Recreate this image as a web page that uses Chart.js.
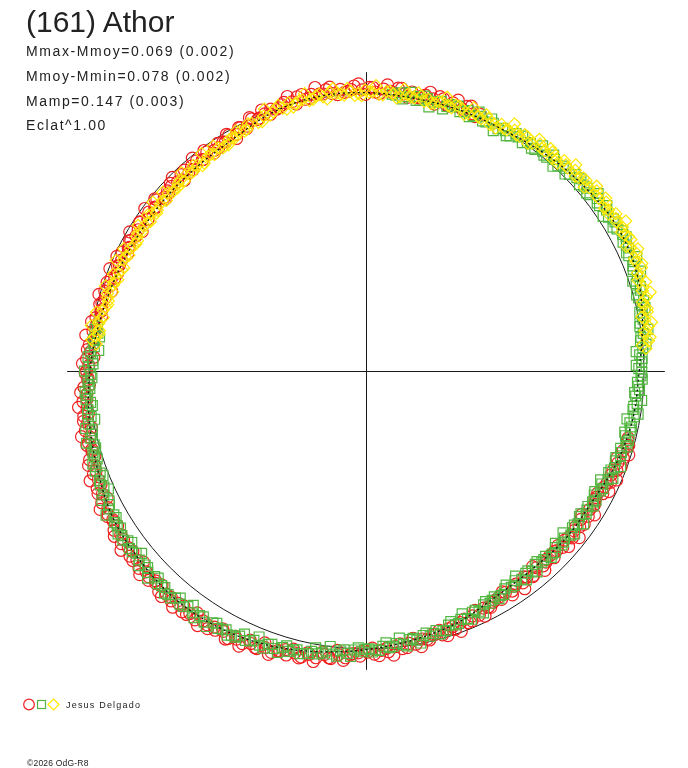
<!DOCTYPE html>
<html>
<head>
<meta charset="utf-8">
<script src="https://cdn.jsdelivr.net/npm/chart.js@4.4.1/dist/chart.umd.min.js"></script>
<style>
  html, body { margin: 0; padding: 0; background: #fff; }
  #wrap { position: relative; width: 688px; height: 768px; overflow: hidden; }
  #polar { position: absolute; left: 0; top: 0; }
  .txt { position: absolute; left: 26px; white-space: nowrap; color: #222;
         font-family: "Liberation Sans", Arial, sans-serif; line-height: 1; }
  .title { top: 7px; font-size: 30px; }
  .info { font-size: 14px; letter-spacing: 1.6px; }
  .legend { left: 66px; top: 701px; font-size: 9px; letter-spacing: 1.2px; }
  .copy { left: 27px; top: 759px; font-size: 8.5px; letter-spacing: 0.2px; }
</style>
</head>
<body>
<div id="wrap">
  <canvas id="polar" width="688" height="768"></canvas>
  <div class="txt title">(161) Athor</div>
  <div class="txt info" style="top:44px">Mmax-Mmoy=0.069 (0.002)</div>
  <div class="txt info" style="top:69px">Mmoy-Mmin=0.078 (0.002)</div>
  <div class="txt info" style="top:94px">Mamp=0.147 (0.003)</div>
  <div class="txt info" style="top:118px">Eclat^1.00</div>
  <div class="txt legend">Jesus Delgado</div>
  <div class="txt copy">©2026 OdG-R8</div>
</div>
<script>
// observations: [phase angle in degrees, relative radius]
const redObs = [
  [66,1.012],[67.4,1.004],[69.1,1.021],[70.3,1.009],[72.0,1.016],[73.2,1.001],[74.9,1.024],[76.1,1.010],
  [77.8,1.017],[79.0,1.003],[80.6,1.019],[82.1,1.008],[83.5,1.026],[85.0,1.012],[86.4,1.018],[88.1,1.006],
  [89.3,1.022],[90.8,1.013],[92.4,1.028],[93.7,1.010],[95.2,1.019],[96.9,1.007],[98.1,1.024],[99.6,1.012],
  [101.2,1.016],[102.5,1.003],[104.1,1.019],[105.4,1.006],[107.0,1.012],[108.3,0.999],[110.0,1.004],
  [111.5,0.996],[112.9,0.989],[114.4,0.998],[115.8,0.980],[117.3,0.987],[118.7,0.972],[120.2,0.983],
  [121.6,0.968],[123.1,0.979],[124.5,0.965],[126.0,0.976],[127.6,0.962],[128.9,0.973],[130.4,0.970],
  [131.8,0.958],[133.3,0.972],[134.9,0.962],[136.2,0.977],[137.8,0.966],[139.3,0.959],[140.7,0.974],
  [142.2,0.963],[143.8,0.970],[145.1,0.958],[146.7,0.975],[148.2,0.966],[149.6,0.961],[151.1,0.973],
  [152.7,0.964],[154.0,0.978],[155.6,0.967],[157.1,0.972],[158.5,0.962],[160.0,0.976],
  [161.5,0.971],[163.0,0.984],[164.4,0.976],[165.9,0.989],[167.3,0.979],[168.8,0.992],[170.2,0.985],
  [171.7,0.994],[173.1,0.987],[174.6,1.002],[176.0,0.995],[177.5,1.008],[178.9,0.999],[180.4,1.012],
  [181.8,1.003],[183.3,1.018],[184.7,1.009],[186.2,1.026],[187.6,1.014],[189.1,1.030],[190.5,1.020],
  [192.0,1.034],[193.4,1.024],[194.9,1.041],[196.3,1.029],[197.8,1.046],[199.2,1.036],[200.7,1.050],
  [202.1,1.041],[203.6,1.057],[205.0,1.048],[206.5,1.064],[207.9,1.052],[209.4,1.069],[210.8,1.060],
  [212.3,1.074],[213.7,1.062],[215.2,1.079],[216.6,1.067],[218.1,1.081],[219.5,1.070],[221.0,1.084],
  [222.4,1.073],[223.9,1.088],[225.3,1.077],[226.8,1.091],[228.2,1.079],[229.7,1.086],[231.1,1.076],
  [232.6,1.092],[234.0,1.080],[235.5,1.088],[236.9,1.075],[238.4,1.090],[239.8,1.081],
  [241.3,1.070],[242.7,1.085],[244.2,1.073],[245.6,1.079],[247.1,1.066],[248.5,1.075],[250.0,1.061],
  [251.4,1.070],[252.9,1.056],[254.3,1.063],[255.8,1.048],[257.2,1.057],[258.7,1.041],[260.1,1.049],
  [261.6,1.033],[263.0,1.044],[264.5,1.027],[265.9,1.036],[267.4,1.019],[268.8,1.028],[270.3,1.013],
  [271.7,1.021],[273.2,1.008],[274.6,1.015],[276.1,0.999],[277.5,1.009],[279.0,0.994],[280.4,1.001],
  [281.9,0.987],[283.3,0.996],[284.8,0.981],[286.2,0.990],[287.7,0.975],[289.1,0.985],[290.6,0.969],
  [292.0,0.978],[293.5,0.962],[294.9,0.970],[296.4,0.954],[297.8,0.963],[299.3,0.948],
  [300.7,0.957],[302.2,0.943],[303.6,0.952],[305.1,0.939],[306.5,0.950],[308.0,0.942],[309.4,0.953],
  [310.9,0.938],[312.3,0.949],[313.8,0.941],[315.2,0.955],[316.7,0.944],[318.1,0.952],[319.6,0.940],
  [321.0,0.956],[322.5,0.945],[323.9,0.953],[325.4,0.941],[326.8,0.957],[328.3,0.948],[329.7,0.954],
  [331.2,0.946],[332.6,0.961],[334.1,0.955],[335.5,0.968],[337.0,0.959],[338.4,0.972],[339.9,0.966],
  [341.3,0.979],[342.8,0.970],[344.2,0.984],[345.7,0.975]
];
const redObsB = [
  [66.8,0.997],[68.3,1.027],[69.8,1.005],[71.2,1.031],[72.7,1.000],[74.1,1.020],[75.6,0.993],[77.0,1.031],
  [78.5,1.011],[79.9,1.003],[81.4,0.997],[82.8,1.027],[84.3,1.006],[85.7,1.034],[87.2,1.001],[88.6,1.022],
  [90.1,0.997],[91.5,1.035],[93.0,1.015],[94.4,1.007],[95.9,1.001],[97.3,1.031],[98.8,1.010],[100.2,1.038],
  [101.7,1.004],[103.1,1.023],[104.6,0.994],[106.0,1.029],[107.5,1.006],[108.9,0.997],[110.4,0.987],
  [111.8,1.013],[113.3,0.987],[114.7,1.005],[116.2,0.974],[117.6,0.990],[119.1,0.959],[120.5,0.990],
  [122.0,0.973],[123.4,0.964],[124.9,0.957],[126.3,0.986],[127.8,0.963],[129.2,0.990],[130.7,0.956],
  [132.1,0.976],[133.6,0.949],[135.0,0.987],[136.5,0.967],[137.9,0.958],[139.4,0.952],[140.8,0.982],
  [142.3,0.960],[143.7,0.989],[145.2,0.956],[146.6,0.976],[148.1,0.950],[149.5,0.988],[151.0,0.969],
  [152.4,0.962],[153.9,0.957],[155.3,0.988],[156.8,0.967],[158.2,0.994],[159.7,0.965],[161.1,0.986],
  [162.6,0.961],[164.0,1.001],[165.5,0.983],[166.9,0.977],[168.4,0.973],[169.8,1.005],[171.3,0.985],
  [172.7,1.018],[174.2,0.985],[175.6,1.007],[177.1,0.982],[178.5,1.022],[180.0,1.007],[181.4,1.002],
  [182.9,0.998],[184.3,1.031],[185.8,1.011],[187.2,1.044],[188.7,1.012],[190.1,1.034],[191.6,1.010],
  [193.0,1.052],[194.5,1.033],[195.9,1.027],[197.4,1.024],[198.8,1.056],[200.3,1.037],[201.7,1.070],
  [203.2,1.039],[204.6,1.062],[206.1,1.039],[207.5,1.080],[209.0,1.064],[210.4,1.058],[211.9,1.054],
  [213.3,1.085],[214.8,1.064],[216.2,1.094],[217.7,1.062],[219.1,1.083],[220.6,1.057],[222.0,1.097],
  [223.5,1.078],[224.9,1.071],[226.4,1.066],[227.8,1.097],[229.3,1.076],[230.7,1.100],[232.2,1.071],
  [233.6,1.090],[235.1,1.063],[236.5,1.100],[238.0,1.079],[239.4,1.072],[240.9,1.063],[242.3,1.091],
  [243.8,1.066],[245.2,1.092],[246.7,1.056],[248.1,1.074],[249.6,1.045],[251.0,1.080],[252.5,1.056],
  [253.9,1.045],[255.4,1.036],[256.8,1.062],[258.3,1.037],[259.7,1.064],[261.2,1.025],[262.6,1.042],
  [264.1,1.012],[265.5,1.046],[266.9,1.023],[268.4,1.016],[269.8,1.008],[271.3,0.999],[272.7,1.027],
  [274.2,1.002],[275.6,1.029],[277.1,0.991],[278.5,1.008],[280.0,0.978],[281.4,1.013],[282.9,0.991],
  [284.3,0.980],[285.8,0.971],[287.2,0.998],[288.7,0.973],[290.1,0.999],[291.6,0.962],[293.0,0.978],
  [294.5,0.948],[295.9,0.982],[297.4,0.958],[298.8,0.951],[300.3,0.946],[301.7,0.935],[303.2,0.964],
  [304.6,0.942],[306.1,0.971],[307.5,0.935],[309.0,0.954],[310.4,0.926],[311.9,0.965],[313.3,0.946],
  [314.8,0.939],[316.2,0.940],[317.7,0.935],[319.1,0.966],[320.6,0.945],[322.0,0.975],[323.5,0.941],
  [324.9,0.961],[326.4,0.934],[327.8,0.973],[329.3,0.953],[330.7,0.946],[332.2,0.944],[333.6,0.977],
  [335.1,0.958],[336.5,0.985],[338.0,0.959],[339.4,0.982],[340.9,0.957],[342.3,0.994],[343.8,0.980],
  [345.2,0.974]
];

const greenObs = [
  [170.5,0.981],[172.0,0.976],[173.4,0.988],[174.9,0.983],[176.3,0.994],[177.8,0.986],[179.2,0.998],
  [180.7,0.992],[182.1,1.003],[183.6,0.997],[185.0,1.008],[186.5,0.999],[187.9,1.012],[189.4,1.004],
  [190.8,1.018],[192.3,1.010],[193.7,1.022],[195.2,1.015],[196.6,1.027],[198.1,1.019],[199.5,1.032],
  [201.0,1.026],[202.4,1.039],[203.9,1.033],[205.3,1.045],[206.8,1.037],[208.2,1.052],[209.7,1.046],
  [211.1,1.058],[212.6,1.050],[214.0,1.061],[215.5,1.054],[216.9,1.066],[218.4,1.057],[219.8,1.064],
  [221.3,1.059],[222.7,1.070],[224.2,1.062],[225.6,1.073],[227.1,1.065],[228.5,1.076],[230.0,1.068],
  [231.4,1.075],[232.9,1.064],[234.3,1.073],[235.8,1.066],[237.2,1.077],[238.7,1.062],[240.1,1.070],
  [241.6,1.060],[243.0,1.069],[244.5,1.058],[245.9,1.064],[247.4,1.051],[248.8,1.060],[250.3,1.046],
  [251.7,1.053],[253.2,1.041],[254.6,1.048],[256.1,1.035],[257.5,1.043],[259.0,1.029],[260.4,1.034],
  [261.9,1.019],[263.3,1.027],[264.8,1.013],[266.2,1.020],[267.7,1.006],[269.1,1.012],[270.6,1.001],
  [272.0,1.006],[273.5,0.994],[274.9,1.001],[276.4,0.988],[277.8,0.995],[279.3,0.981],[280.7,0.987],
  [282.2,0.975],[283.6,0.983],[285.1,0.969],[286.5,0.977],[288.0,0.963],[289.4,0.970],[290.9,0.958],
  [292.3,0.964],[293.8,0.950],[295.2,0.957],[296.7,0.943],[298.1,0.949],[299.6,0.936],
  [301.0,0.944],[302.5,0.931],[303.9,0.939],[305.4,0.927],[306.8,0.937],[308.3,0.929],[309.7,0.938],
  [311.2,0.926],[312.6,0.936],[314.1,0.930],[315.5,0.941],[317.0,0.933],[318.4,0.944],[319.9,0.935],
  [321.3,0.946],[322.8,0.934],[324.2,0.942],[325.7,0.931],[327.1,0.945],[328.6,0.937],[330.0,0.943],
  [331.5,0.936],[332.9,0.949],[334.4,0.942],[335.8,0.956],[337.3,0.948],[338.7,0.961],[340.2,0.955],
  [341.6,0.967],[343.1,0.959],[344.5,0.972],[346.0,0.964],[347.4,0.976],[348.9,0.969],[350.3,0.980],
  [351.8,0.972],[353.2,0.984],[354.7,0.976],[356.1,0.988],[357.6,0.979],[359.0,0.991],
  [0.5,0.983],[1.9,0.994],[3.4,0.988],[4.8,1.001],[6.3,0.995],[7.7,1.008],[9.2,1.000],
  [10.6,1.016],[12.1,1.009],[13.5,1.024],[15.0,1.017],[16.4,1.031],[17.9,1.023],[19.3,1.036],
  [20.8,1.030],[22.2,1.042],[23.7,1.034],[25.1,1.045],[26.6,1.036],[28.0,1.048],[29.5,1.039],
  [30.9,1.046],[32.4,1.035],[33.8,1.043],[35.3,1.031],[36.7,1.040],[38.2,1.027],[39.6,1.034],
  [41.1,1.021],[42.5,1.031],[44.0,1.019],[45.4,1.026],[46.9,1.012],[48.3,1.021],[49.8,1.009],
  [51.2,1.016],[52.7,1.004],[54.1,1.011],[55.6,0.997],[57.0,1.006],[58.5,0.993],[59.9,1.001],
  [61.4,0.994],[62.8,1.004],[64.3,0.996],[65.7,1.007],[67.2,0.998],[68.6,1.008],[70.1,0.994],
  [71.5,1.003],[73.0,0.997],[74.4,1.009],[75.9,1.000],[77.3,1.006],[78.8,0.995],[80.2,1.004],
  [81.7,0.999],[83.1,1.010],[84.6,1.002]
];
const greenObsB = [
  [171.2,0.988],[172.7,0.968],[174.2,0.988],[175.6,0.966],[177.1,1.003],[178.5,0.984],[180.0,1.014],
  [181.4,0.988],[182.9,1.000],[184.3,1.015],[185.8,1.014],[187.2,0.994],[188.7,1.015],[190.1,0.993],
  [191.6,1.031],[193.0,1.012],[194.5,1.040],[195.9,1.013],[197.4,1.026],[198.8,1.040],[200.3,1.040],
  [201.7,1.020],[203.2,1.042],[204.6,1.021],[206.1,1.060],[207.5,1.042],[209.0,1.071],[210.4,1.044],
  [211.9,1.056],[213.3,1.069],[214.8,1.067],[216.2,1.046],[217.7,1.065],[219.1,1.042],[220.6,1.078],
  [222.0,1.059],[223.5,1.085],[224.9,1.057],[226.4,1.068],[227.8,1.081],[229.3,1.079],[230.7,1.057],
  [232.2,1.074],[233.6,1.049],[235.1,1.084],[236.5,1.062],[238.0,1.086],[239.4,1.056],[240.9,1.065],
  [242.3,1.075],[243.8,1.069],[245.2,1.044],[246.7,1.059],[248.1,1.033],[249.6,1.066],[251.0,1.042],
  [252.5,1.063],[253.9,1.031],[255.4,1.038],[256.8,1.046],[258.3,1.040],[259.7,1.014],[261.2,1.028],
  [262.6,1.001],[264.1,1.033],[265.5,1.008],[266.9,1.030],[268.4,0.998],[269.8,1.004],[271.3,1.013],
  [272.7,1.008],[274.2,0.982],[275.6,0.997],[277.1,0.970],[278.5,1.002],[280.0,0.978],[281.4,1.000],
  [282.9,0.969],[284.3,0.976],[285.8,0.985],[287.2,0.979],[288.7,0.953],[290.1,0.969],[291.6,0.941],
  [293.0,0.972],[294.5,0.948],[295.9,0.969],[297.4,0.936],[298.8,0.943],[300.3,0.950],[301.7,0.946],
  [303.2,0.922],[304.6,0.940],[306.1,0.915],[307.5,0.949],[309.0,0.927],[310.4,0.951],[311.9,0.923],
  [313.3,0.934],[314.8,0.947],[316.2,0.945],[317.7,0.923],[319.1,0.942],[320.6,0.919],[322.0,0.954],
  [323.5,0.934],[324.9,0.959],[326.4,0.930],[327.8,0.941],[329.3,0.953],[330.7,0.951],[332.2,0.932],
  [333.6,0.953],[335.1,0.932],[336.5,0.970],[338.0,0.952],[339.4,0.980],[340.9,0.953],[342.3,0.966],
  [343.8,0.980],[345.2,0.979],[346.7,0.958],[348.1,0.978],[349.6,0.956],[351.0,0.993],[352.5,0.973],
  [353.9,0.999],[355.4,0.971],[356.8,0.982],[358.3,0.996],[359.7,0.994],
  [1.2,0.974],[2.6,0.996],[4.1,0.976],[5.5,1.014],[7.0,0.998],[8.4,1.027],[9.9,1.002],[11.3,1.015],
  [12.8,1.031],[14.2,1.032],[15.7,1.013],[17.1,1.034],[18.6,1.014],[20.0,1.053],[21.5,1.033],
  [22.9,1.059],[24.4,1.031],[25.8,1.042],[27.3,1.055],[28.7,1.052],[30.2,1.030],[31.6,1.046],
  [33.1,1.020],[34.5,1.053],[36.0,1.030],[37.4,1.053],[38.9,1.022],[40.3,1.030],[41.8,1.039],
  [43.2,1.034],[44.7,1.009],[46.1,1.025],[47.6,0.999],[49.0,1.031],[50.5,1.008],[51.9,1.031],
  [53.4,1.000],[54.8,1.008],[56.3,1.018],[57.7,1.012],[59.2,0.987],[60.6,1.004],[62.1,0.980],
  [63.5,1.015],[65.0,0.994],[66.4,1.018],[67.9,0.989],[69.3,0.999],[70.8,1.011],[72.2,1.008],
  [73.7,0.984],[75.1,1.002],[76.6,0.978],[78.0,1.013],[79.5,0.992],[80.9,1.017],[82.4,0.989],
  [83.8,1.000]
];

const yellowObs = [
  [4.6,1.012],[6.1,1.024],[7.5,1.016],[9.0,1.031],
  [10.4,1.022],[11.9,1.036],[13.3,1.029],[14.8,1.045],[16.2,1.037],[17.7,1.058],[19.1,1.046],
  [20.6,1.061],[22.0,1.049],[23.5,1.063],[24.9,1.052],[26.4,1.066],[27.8,1.054],[29.3,1.060],
  [30.7,1.051],[32.2,1.064],[33.6,1.049],[35.1,1.058],[36.5,1.044],[38.0,1.055],[39.4,1.041],
  [40.9,1.049],[42.3,1.036],[43.8,1.045],[45.2,1.031],[46.7,1.042],[48.1,1.027],[49.6,1.036],
  [51.0,1.022],[52.5,1.031],[53.9,1.016],[55.4,1.025],[56.8,1.011],[58.3,1.020],[59.7,1.006],
  [61.2,1.014],[62.6,1.003],[64.1,1.011],[65.5,0.999],[67.0,1.009],[68.4,0.997],[69.9,1.006],
  [71.3,1.012],[72.8,1.001],[74.2,1.008],[75.7,0.996],[77.1,1.005],[78.6,1.011],[80.0,0.999],
  [81.5,1.007],[82.9,0.995],[84.4,1.004],[85.8,1.010],[87.3,0.998],[88.7,1.006],[90.2,1.013],
  [91.6,1.001],[93.1,1.009],[94.5,0.997],[96.0,1.007],[97.4,1.012],[98.9,1.000],[100.3,1.008],
  [101.8,0.995],[103.2,1.004],[104.7,0.998],[106.1,1.006],[107.6,0.993],[109.0,0.999],
  [110.5,0.984],[111.9,0.990],[113.4,0.976],[114.8,0.983],[116.3,0.970],[117.7,0.976],[119.2,0.964],
  [120.6,0.969],[122.1,0.957],[123.5,0.964],[125.0,0.952],[126.4,0.961],[127.9,0.949],[129.3,0.958],
  [130.8,0.951],[132.2,0.960],[133.7,0.947],[135.1,0.956],[136.6,0.950],[138.0,0.959],[139.5,0.946],
  [140.9,0.955],[142.4,0.949],[143.8,0.958],[145.3,0.945],[146.7,0.954],[148.2,0.950],[149.6,0.959],
  [151.1,0.947],[152.5,0.957],[154.0,0.951],[155.4,0.961],[156.9,0.949],[158.3,0.958],[159.8,0.953],
  [161.2,0.962],[162.7,0.956],[164.1,0.968],[165.6,0.961],[167.0,0.973],[168.5,0.966],[169.9,0.978],
  [171.4,0.971],[172.8,0.984],[174.3,0.977]
];
const yellowObsB = [
  [5.3,1.000],[6.8,1.031],[8.2,1.016],[9.7,1.044],[11.1,1.013],[12.6,1.038],[14.0,1.027],[15.5,1.063],
  [16.9,1.043],[18.4,1.033],[19.8,1.039],[21.3,1.067],[22.7,1.049],[24.2,1.074],[25.6,1.040],[27.1,1.063],
  [28.5,1.048],[30.0,1.081],[31.4,1.055],[32.9,1.041],[34.3,1.041],[35.8,1.065],[37.2,1.043],[38.7,1.065],
  [40.1,1.028],[41.6,1.048],[43.0,1.030],[44.5,1.060],[45.9,1.034],[47.4,1.018],[48.8,1.018],[50.3,1.042],
  [51.7,1.021],[53.2,1.043],[54.6,1.006],[56.1,1.026],[57.5,1.009],[59.0,1.039],
  [60.4,1.005],[61.9,0.992],[63.3,0.994],[64.8,1.020],[66.2,1.001],[67.7,1.025],[69.1,0.990],[70.6,1.012],
  [72.0,0.997],[73.5,1.029],[74.9,1.005],[76.4,0.992],[77.8,0.994],[79.3,1.020],[80.7,1.001],[82.2,1.025],
  [83.6,0.990],[85.1,1.012],[86.5,0.997],[88.0,1.029],[89.4,1.005],[90.9,0.992],[92.3,0.994],[93.8,1.020],
  [95.2,1.001],[96.7,1.025],[98.1,0.990],[99.6,1.012],[101.0,0.997],[102.5,1.024],[103.9,1.003],
  [105.4,0.986],[106.8,0.986],[108.3,1.008],[109.7,0.992],[111.2,1.012],[112.6,0.973],[115.5,0.987],
  [116.9,0.969],[118.4,0.984],[119.8,0.968],[121.3,0.954],[122.7,0.955],[124.2,0.980],[125.6,0.960],
  [127.1,0.982],[128.5,0.946],[130.0,0.967],[131.4,0.952],[132.9,0.976],[134.3,0.960],[135.8,0.947],
  [137.2,0.949],[138.7,0.975],[140.1,0.956],[141.6,0.980],[143.0,0.945],[144.5,0.967],[145.9,0.952],
  [147.4,0.975],[148.8,0.961],[150.3,0.948],[151.7,0.951],[153.2,0.978],[154.6,0.960],[156.1,0.985],
  [157.5,0.952],[159.0,0.975],[160.4,0.961],[161.9,0.988],[163.3,0.973],[164.8,0.962],[166.2,0.966],
  [167.7,0.994],[169.1,0.977],[170.6,1.003],[172.1,0.971],[173.5,0.995]
];

// fitted lightcurve, read every 10 degrees
const fitCurve = [
  [0,0.985],[10,1.012],[20,1.038],[30,1.044],[40,1.030],[50,1.015],[60,1.000],[70,0.999],
  [80,0.998],[90,1.003],[100,1.004],[110,0.990],[120,0.963],[130,0.955],[140,0.954],[150,0.956],
  [160,0.964],[170,0.977],[180,0.995],[190,1.013],[200,1.030],[210,1.054],[220,1.063],[230,1.071],
  [240,1.066],[250,1.050],[260,1.027],[270,1.004],[280,0.984],[290,0.965],[300,0.938],[310,0.932],
  [320,0.939],[330,0.941],[340,0.962],[350,0.977]
];

const unitRadius = 1;      // reference circle
const axisReach = 1.077;   // half-length of the cross axes
const viewRange = 1.15;

const RED = "#f02020", GREEN = "#52b640", YELLOW = "#ffe800";

function toXY(pairs) {
  return pairs.map(function(p) {
    const a = p[0] * Math.PI / 180;
    return { x: p[1] * Math.cos(a), y: p[1] * Math.sin(a) };
  });
}

// axes cross and reference circle, behind the points
const polarFrame = {
  id: "polarFrame",
  beforeDatasetsDraw(chart) {
    const ctx = chart.ctx, xs = chart.scales.x, ys = chart.scales.y;
    const cx = Math.round(xs.getPixelForValue(0)) + 0.5;
    const cy = Math.round(ys.getPixelForValue(0)) + 0.5;
    const rPx = xs.getPixelForValue(unitRadius) - xs.getPixelForValue(0);
    ctx.save();
    ctx.strokeStyle = "#1a1a1a";
    ctx.lineWidth = 1;
    ctx.beginPath();
    ctx.moveTo(xs.getPixelForValue(-axisReach), cy);
    ctx.lineTo(xs.getPixelForValue(axisReach), cy);
    ctx.moveTo(cx, ys.getPixelForValue(axisReach));
    ctx.lineTo(cx, ys.getPixelForValue(-axisReach));
    ctx.stroke();
    ctx.beginPath();
    ctx.arc(cx, cy, rPx, 0, Math.PI * 2);
    ctx.stroke();
    ctx.restore();
  },
  afterDraw(chart) {
    // legend symbols next to the observer name
    const ctx = chart.ctx;
    ctx.save();
    ctx.lineWidth = 1.2;
    ctx.strokeStyle = RED;
    ctx.beginPath(); ctx.arc(29, 704.5, 5.3, 0, Math.PI * 2); ctx.stroke();
    ctx.strokeStyle = GREEN;
    ctx.strokeRect(37.5, 700.5, 8, 8);
    ctx.strokeStyle = YELLOW;
    ctx.beginPath();
    ctx.moveTo(53.5, 699); ctx.lineTo(59, 704.5); ctx.lineTo(53.5, 710); ctx.lineTo(48, 704.5);
    ctx.closePath(); ctx.stroke();
    ctx.restore();
  }
};

const fitPoints = toXY(fitCurve);
fitPoints.push(fitPoints[0]);

new Chart(document.getElementById("polar"), {
  type: "scatter",
  data: {
    datasets: [
      {
        label: "fit",
        data: fitPoints,
        showLine: true,
        pointRadius: 0,
        borderColor: "#111",
        borderWidth: 1.3,
        borderDash: [2, 3],
        tension: 0.35,
        order: 0
      },
      {
        label: "yellow",
        data: toXY(yellowObs.concat(yellowObsB)),
        pointStyle: "rectRot",
        pointRadius: 6,
        borderColor: YELLOW,
        backgroundColor: "transparent",
        pointBorderWidth: 1.2,
        order: 1
      },
      {
        label: "green",
        data: toXY(greenObs.concat(greenObsB)),
        pointStyle: "rect",
        pointRadius: 7,
        borderColor: GREEN,
        backgroundColor: "transparent",
        pointBorderWidth: 1.2,
        order: 2
      },
      {
        label: "red",
        data: toXY(redObs.concat(redObsB)),
        pointStyle: "circle",
        pointRadius: 6,
        borderColor: RED,
        backgroundColor: "transparent",
        pointBorderWidth: 1.2,
        order: 3
      }
    ]
  },
  options: {
    responsive: false,
    animation: false,
    events: [],
    layout: { autoPadding: false, padding: { left: 46.875, right: 2.875, top: 51.875, bottom: 77.875 } },
    plugins: { legend: { display: false }, tooltip: { enabled: false } },
    scales: {
      x: { type: "linear", min: -viewRange, max: viewRange, display: false },
      y: { type: "linear", min: -viewRange, max: viewRange, display: false }
    }
  },
  plugins: [polarFrame]
});
</script>
</body>
</html>
